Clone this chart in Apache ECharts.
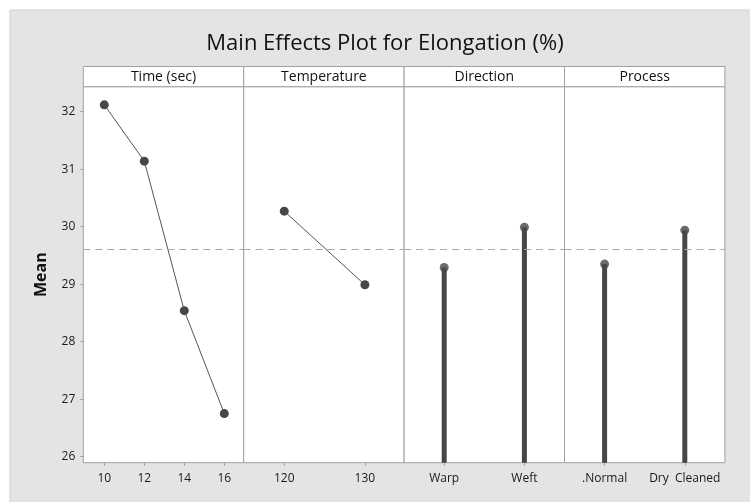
<!DOCTYPE html>
<html>
<head>
<meta charset="utf-8">
<script src="https://cdn.jsdelivr.net/npm/echarts@6/dist/echarts.min.js"></script>
<style>
html,body{margin:0;padding:0;background:#fff;}
#chart{width:750px;height:502px;}
</style>
</head>
<body>
<div id="chart"></div>
<script>
// ---- data ----
const panelTitles = ['Time (sec)', 'Temperature', 'Direction', 'Process'];
const timeLevels = [10, 12, 14, 16];
const timeMeans = [32.12, 31.14, 28.54, 26.75];
const tempLevels = [120, 130];
const tempMeans = [30.27, 28.99];
const dirLevels = ['Warp', 'Weft'];
const dirMeans = [29.29, 29.99];
const procLevels = ['.Normal', 'Dry  Cleaned'];
const procMeans = [29.35, 29.94];
const grandMean = 29.61;
const yTicks = [26, 27, 28, 29, 30, 31, 32];
const yMin = 25.896, yMax = 32.435;

// ---- layout ----
const L = 83.3, W = 160.4, T = 86.7, H = 376;
const dark = '#474747', axisGray = '#a0a0a0', bg = '#e4e4e4';
const font = '"Open Sans", "Noto Sans", sans-serif';

const chart = echarts.init(document.getElementById('chart'), null, {renderer: 'canvas'});

const grids = [0,1,2,3].map(i => ({left: L + i*W, top: T, width: W, height: H, show: true, backgroundColor: '#fff', borderColor: axisGray, borderWidth: 1}));

const labelStyle = {color: '#1a1a1a', fontSize: 12, fontFamily: font, margin: 10, interval: 0};
const xAxes = [
  {gridIndex: 0, type: 'value', min: 8.95, max: 16.97, splitLine: {show: false},
   axisLine: {show: false}, axisTick: {show: true, length: 3, lineStyle: {color: axisGray}, customValues: timeLevels},
   axisLabel: Object.assign({customValues: timeLevels}, labelStyle)},
  {gridIndex: 1, type: 'value', min: 114.97, max: 134.86, splitLine: {show: false},
   axisLine: {show: false}, axisTick: {show: true, length: 3, lineStyle: {color: axisGray}, customValues: tempLevels},
   axisLabel: Object.assign({customValues: tempLevels}, labelStyle)},
  {gridIndex: 2, type: 'category', data: dirLevels, boundaryGap: true,
   axisLine: {show: false}, axisTick: {show: true, alignWithLabel: true, interval: 0, length: 3, lineStyle: {color: axisGray}},
   axisLabel: Object.assign({hideOverlap: false}, labelStyle)},
  {gridIndex: 3, type: 'category', data: procLevels, boundaryGap: true,
   axisLine: {show: false}, axisTick: {show: true, alignWithLabel: true, interval: 0, length: 3, lineStyle: {color: axisGray}},
   axisLabel: Object.assign({hideOverlap: false}, labelStyle)}
];

const yAxes = [0,1,2,3].map(i => ({
  gridIndex: i, type: 'value', min: yMin, max: yMax,
  splitLine: {show: false},
  axisLine: {show: false},
  axisTick: {show: i === 0, length: 3, lineStyle: {color: axisGray}, customValues: yTicks},
  axisLabel: {show: i === 0, customValues: yTicks, color: '#1a1a1a', fontSize: 12, fontFamily: font, margin: 8},
  name: i === 0 ? 'Mean' : '', nameLocation: 'middle', nameGap: 34,
  nameTextStyle: {fontWeight: 'bold', fontSize: 16, color: '#111', fontFamily: font}
}));

function refLine() {
  return {silent: true, symbol: 'none', label: {show: false},
    lineStyle: {color: '#a8a8a8', type: [7, 5], width: 1.2},
    data: [{yAxis: grandMean}]};
}

const series = [
  {type: 'line', xAxisIndex: 0, yAxisIndex: 0, data: timeLevels.map((x, i) => [x, timeMeans[i]]),
   symbol: 'circle', symbolSize: 9, itemStyle: {color: dark}, lineStyle: {color: '#555', width: 1}, markLine: refLine(), z: 3},
  {type: 'line', xAxisIndex: 1, yAxisIndex: 1, data: tempLevels.map((x, i) => [x, tempMeans[i]]),
   symbol: 'circle', symbolSize: 9, itemStyle: {color: dark}, lineStyle: {color: '#555', width: 1}, markLine: refLine(), z: 3},
  {type: 'bar', xAxisIndex: 2, yAxisIndex: 2, data: dirMeans, barWidth: 5, itemStyle: {color: dark}, markLine: refLine(), clip: true},
  {type: 'scatter', xAxisIndex: 2, yAxisIndex: 2, data: dirMeans, symbol: 'circle', symbolSize: 9, itemStyle: {color: dark}, z: 3},
  {type: 'bar', xAxisIndex: 3, yAxisIndex: 3, data: procMeans, barWidth: 5, itemStyle: {color: dark}, markLine: refLine(), clip: true},
  {type: 'scatter', xAxisIndex: 3, yAxisIndex: 3, data: procMeans, symbol: 'circle', symbolSize: 9, itemStyle: {color: dark}, z: 3}
];

const graphics = [
  {type: 'rect', shape: {x: 10, y: 10, width: 750, height: 502}, style: {fill: bg, stroke: '#cfcfcf', lineWidth: 1}, z: -10, silent: true},
  {type: 'text', x: 385, y: 44, style: {text: 'Main Effects Plot for Elongation (%)', font: '22px ' + font, fill: '#111', align: 'center', verticalAlign: 'middle'}, silent: true}
];
panelTitles.forEach((t, i) => {
  graphics.push({type: 'rect', shape: {x: L + i*W, y: 66.5, width: W, height: 20.2}, style: {fill: '#fff', stroke: axisGray, lineWidth: 1}, silent: true, z: 5});
  graphics.push({type: 'text', x: L + i*W + W/2, y: 76.6, style: {text: t, font: '14px ' + font, fill: '#111', align: 'center', verticalAlign: 'middle'}, silent: true, z: 6});
});

chart.setOption({
  animation: false,
  backgroundColor: '#fff',
  grid: grids,
  xAxis: xAxes,
  yAxis: yAxes,
  series: series,
  graphic: graphics
});
</script>
</body>
</html>
